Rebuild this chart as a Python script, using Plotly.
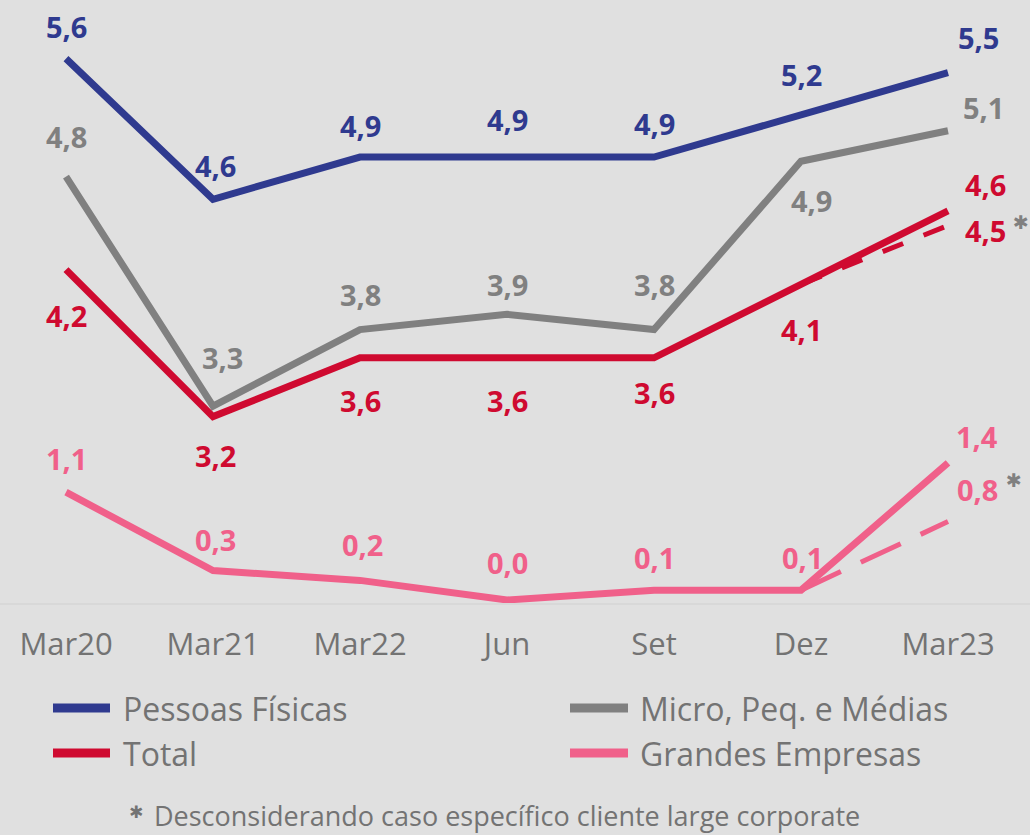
import plotly.graph_objects as go

# ---------------- data ----------------
categories = ["Mar20", "Mar21", "Mar22", "Jun", "Set", "Dez", "Mar23"]
pessoas_fisicas = [5.6, 4.6, 4.9, 4.9, 4.9, 5.2, 5.5]
micro_peq_medias = [4.8, 3.3, 3.8, 3.9, 3.8, 4.9, 5.1]
total = [4.2, 3.2, 3.6, 3.6, 3.6, 4.1, 4.6]
grandes_empresas = [1.1, 0.3, 0.2, 0.0, 0.1, 0.1, 1.4]
total_ex_caso = 4.5        # Mar23, desconsiderando caso específico
grandes_ex_caso = 0.8      # Mar23, desconsiderando caso específico

series_names = ["Pessoas Físicas", "Micro, Peq. e Médias", "Total", "Grandes Empresas"]
footnote = "Desconsiderando caso específico cliente large corporate"

# ---------------- styles ----------------
W, H = 1030, 835
BG = "#e0e0e0"
TXT = "#737373"
C_PF = "#2f3a8f"
C_MPME = "#808080"
C_TOT = "#cf0a30"
C_GE = "#f0608a"
PLOT_BOTTOM = 603  # px from top

FONT = "Open Sans"
LBL = 29


def yrange(a, s):
    # pixel y = a - s*v  (plot area from 0 to PLOT_BOTTOM)
    return [(a - PLOT_BOTTOM) / s, a / s]


def fmt(v):
    return f"{v:.1f}".replace(".", ",")


fig = go.Figure()

# gray (y)
fig.add_trace(go.Scatter(x=categories, y=micro_peq_medias, mode="lines",
                         line=dict(color=C_MPME, width=7), yaxis="y", hoverinfo="skip"))
# total (y2)
fig.add_trace(go.Scatter(x=categories[-2:], y=[total[-2], total_ex_caso], mode="lines",
                         line=dict(color=C_TOT, width=5, dash="22px,22px"), yaxis="y2",
                         hoverinfo="skip"))
fig.add_trace(go.Scatter(x=categories, y=total, mode="lines",
                         line=dict(color=C_TOT, width=7), yaxis="y2", hoverinfo="skip"))
# PF (y3)
fig.add_trace(go.Scatter(x=categories, y=pessoas_fisicas, mode="lines",
                         line=dict(color=C_PF, width=7), yaxis="y3", hoverinfo="skip"))
# GE (y4)
fig.add_trace(go.Scatter(x=categories[-2:], y=[grandes_empresas[-2], grandes_ex_caso], mode="lines",
                         line=dict(color=C_GE, width=5, dash="44px,22px"), yaxis="y4",
                         hoverinfo="skip"))
fig.add_trace(go.Scatter(x=categories, y=grandes_empresas, mode="lines",
                         line=dict(color=C_GE, width=7), yaxis="y4", hoverinfo="skip"))

ann = []


def labels(values, yref, color, yshifts, xshifts):
    for c, v, ys, xs in zip(categories, values, yshifts, xshifts):
        ann.append(dict(x=c, y=v, xref="x", yref=yref, text=f"<b>{fmt(v)}</b>",
                        showarrow=False, xshift=xs, yshift=ys,
                        font=dict(family=FONT, size=LBL, color=color)))


labels(pessoas_fisicas, "y3", C_PF, [32, 34, 32, 38, 34, 40, 35], [0, 2, 0, 0, 0, 0, 30])
labels(micro_peq_medias, "y", C_MPME, [40, 49, 35, 30, 45, -39, 23], [0, 9, 0, 0, 0, 10, 35])
labels(total, "y2", C_TOT, [-46, -39, -43, -43, -35, -45, 26], [0, 2, 0, 0, 0, 0, 37])
labels(grandes_empresas, "y4", C_GE, [34, 31, 36, 38, 33, 33, 26], [0, 2, 2, 0, 0, 1, 29])

# excluding-case labels
ann.append(dict(x=categories[-1], y=total_ex_caso, xref="x", yref="y2",
                text=f"<b>{fmt(total_ex_caso)}</b>", showarrow=False, xshift=37, yshift=-5,
                font=dict(family=FONT, size=LBL, color=C_TOT)))
ann.append(dict(x=categories[-1], y=grandes_ex_caso, xref="x", yref="y4",
                text=f"<b>{fmt(grandes_ex_caso)}</b>", showarrow=False, xshift=29, yshift=32,
                font=dict(family=FONT, size=LBL, color=C_GE)))
ann.append(dict(x=categories[-1], y=total_ex_caso, xref="x", yref="y2", text="✱",
                showarrow=False, xshift=73, yshift=4,
                font=dict(family="DejaVu Sans", size=19, color=C_MPME)))
ann.append(dict(x=categories[-1], y=grandes_ex_caso, xref="x", yref="y4", text="✱",
                showarrow=False, xshift=66, yshift=42,
                font=dict(family="DejaVu Sans", size=19, color=C_MPME)))


def px2py(py):
    return (PLOT_BOTTOM - py) / PLOT_BOTTOM


# manual legend
shapes = []
legend_items = [
    (series_names[0], C_PF, 53, 110, 121, 708),
    (series_names[1], C_MPME, 570, 628, 638, 708),
    (series_names[2], C_TOT, 53, 110, 121, 753),
    (series_names[3], C_GE, 570, 628, 638, 753),
]
for name, col, x0, x1, tx, ty in legend_items:
    shapes.append(dict(type="line", xref="paper", yref="paper",
                       x0=x0 / W, x1=x1 / W, y0=px2py(ty), y1=px2py(ty),
                       line=dict(color=col, width=9)))
    ann.append(dict(xref="paper", yref="paper", x=tx / W, y=px2py(ty), text=name,
                    showarrow=False, xanchor="left", yanchor="middle",
                    font=dict(family=FONT, size=32, color=TXT)))

# footnote
ann.append(dict(xref="paper", yref="paper", x=136 / W, y=px2py(812), text="✱",
                showarrow=False, xanchor="center", yanchor="middle",
                font=dict(family="DejaVu Sans", size=17, color=TXT)))
ann.append(dict(xref="paper", yref="paper", x=152 / W, y=px2py(815), text=footnote,
                showarrow=False, xanchor="left", yanchor="middle",
                font=dict(family=FONT, size=27, color=TXT)))

hidden = dict(visible=False, fixedrange=True)
fig.update_layout(
    width=W, height=H,
    paper_bgcolor=BG, plot_bgcolor=BG,
    margin=dict(l=0, r=0, t=0, b=H - PLOT_BOTTOM),
    showlegend=False,
    xaxis=dict(type="category", range=[-66 / 147, -66 / 147 + W / 147],
               showgrid=False, zeroline=False, showline=True, linecolor="#d8d8d8",
               linewidth=2, ticks="", ticklabelstandoff=13,
               tickfont=dict(family=FONT, size=31, color=TXT), fixedrange=True),
    yaxis=dict(range=yrange(911, 153), **hidden),
    yaxis2=dict(range=yrange(887, 147), overlaying="y", **hidden),
    yaxis3=dict(range=yrange(846, 140.6), overlaying="y", **hidden),
    yaxis4=dict(range=yrange(600, 98), overlaying="y", **hidden),
    annotations=ann,
    shapes=shapes,
)

fig.write_html("out.html", config={"displayModeBar": False},
               post_script="document.body.style.margin='0';document.body.style.overflow='hidden';")
